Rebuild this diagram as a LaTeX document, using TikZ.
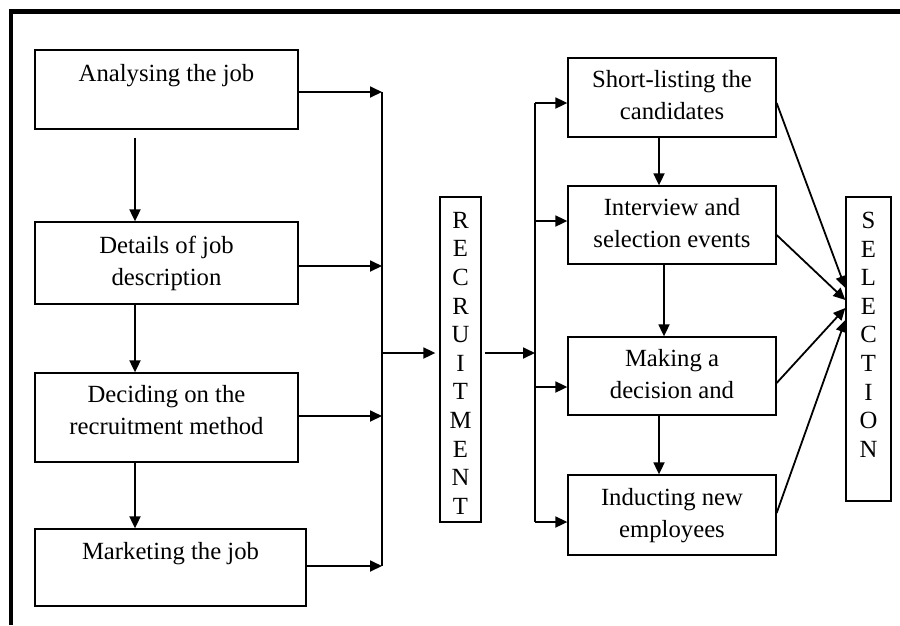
\documentclass[tikz,border=0pt]{standalone}
\usepackage{fontspec}
\setmainfont{Liberation Serif}
\usetikzlibrary{arrows.meta,calc}
\begin{document}
\begin{tikzpicture}[x=1pt,y=-1pt,
  box/.style={draw, line width=1.3pt, inner sep=0pt, align=center,
    font=\fontsize{24.7}{32}\selectfont},
  vbox/.style={draw, line width=1.3pt, inner sep=0pt, align=center,
    font=\fontsize{24.7}{28.6}\selectfont},
  arr/.style={line width=1.8pt, -{Triangle[length=12pt,width=11pt]}},
  bus/.style={line width=1.8pt}]
\useasboundingbox (0,0) rectangle (900,625);
% frame
\draw[line width=4.5pt] (11,625) -- (11,11.7) -- (900,11.7);

% left column
\node[box, minimum width=263pt, minimum height=79pt] (L1) at (166.5,89.5) {\rule{0pt}{26.4pt}Analysing the job\\\strut};
\node[box, minimum width=263pt, minimum height=82pt] (L2) at (166.5,263) {\strut Details of job\\\strut description};
\node[box, minimum width=263pt, minimum height=89pt] (L3) at (166.5,417.5) {\strut Deciding on the\\\strut recruitment method\rule[-19.6pt]{0pt}{19.6pt}};
\node[box, minimum width=271pt, minimum height=77pt] (L4) at (170.5,567.5) {\rule{0pt}{26.4pt}Marketing the job\\\strut};

% recruitment
\node[vbox, minimum width=41pt, minimum height=325pt] (R) at (460.5,359.5) {\rule{0pt}{23.4pt}R\\E\\C\\R\\U\\I\\T\\M\\E\\N\\T};

% right column
\node[box, minimum width=208pt, minimum height=79pt] (A) at (672,97.5) {\strut Short-listing the\\\strut candidates};
\node[box, minimum width=208pt, minimum height=78pt] (B) at (672,225) {\strut Interview and\\\strut selection events};
\node[box, minimum width=208pt, minimum height=78pt] (C) at (672,376) {\strut Making a\\\strut decision and};
\node[box, minimum width=208pt, minimum height=80pt] (D) at (672,515) {\strut Inducting new\\\strut employees};

% selection
\node[vbox, minimum width=45pt, minimum height=304pt] (S) at (868.5,349) {S\\E\\L\\E\\C\\T\\I\\O\\N\rule[-28.6pt]{0pt}{28.6pt}};

% coordinates
\coordinate (x1) at (135,0);
\coordinate (x2) at (659,0);
\coordinate (x3) at (664,0);
\coordinate (p1) at (382,92);
\coordinate (p2) at (382,266);
\coordinate (p3) at (382,416);
\coordinate (p4) at (382,566);
\coordinate (pm) at (382,353);
\coordinate (q)  at (535,353);
\coordinate (qa) at (535,103);
\coordinate (qb) at (535,221);
\coordinate (qc) at (535,387);
\coordinate (qd) at (535,522);
\coordinate (ya) at (0,103);
\coordinate (yb) at (0,235);
\coordinate (yc) at (0,383);
\coordinate (yd) at (0,513);
\coordinate (sa) at (0,288);
\coordinate (sb) at (0,300);
\coordinate (sc) at (0,308);
\coordinate (sd) at (0,320);

% left down arrows
\draw[arr, shorten <=8pt] (L1.south -| x1) -- (L2.north -| x1);
\draw[arr] (L2.south -| x1) -- (L3.north -| x1);
\draw[arr] (L3.south -| x1) -- (L4.north -| x1);

% left to bus
\draw[bus] (p1) -- (p4);
\draw[arr] (p1 -| L1.east) -- (p1);
\draw[arr] (p2 -| L2.east) -- (p2);
\draw[arr] (p3 -| L3.east) -- (p3);
\draw[arr] (p4 -| L4.east) -- (p4);
\draw[arr, shorten >=4pt] (pm) -- (pm -| R.west);

% recruitment to right bus
\draw[arr, shorten <=3pt] (q -| R.east) -- (q);
\draw[bus] (qa) -- (qd);
\draw[arr] (qa) -- (qa -| A.west);
\draw[arr] (qb) -- (qb -| B.west);
\draw[arr] (qc) -- (qc -| C.west);
\draw[arr] (qd) -- (qd -| D.west);

% right down arrows
\draw[arr] (A.south -| x2) -- (B.north -| x2);
\draw[arr] (B.south -| x3) -- (C.north -| x3);
\draw[arr] (C.south -| x2) -- (D.north -| x2);

% to selection
\draw[arr] (A.east |- ya) -- (S.west |- sa);
\draw[arr] (B.east |- yb) -- (S.west |- sb);
\draw[arr] (C.east |- yc) -- (S.west |- sc);
\draw[arr] (D.east |- yd) -- (S.west |- sd);
\end{tikzpicture}
\end{document}
